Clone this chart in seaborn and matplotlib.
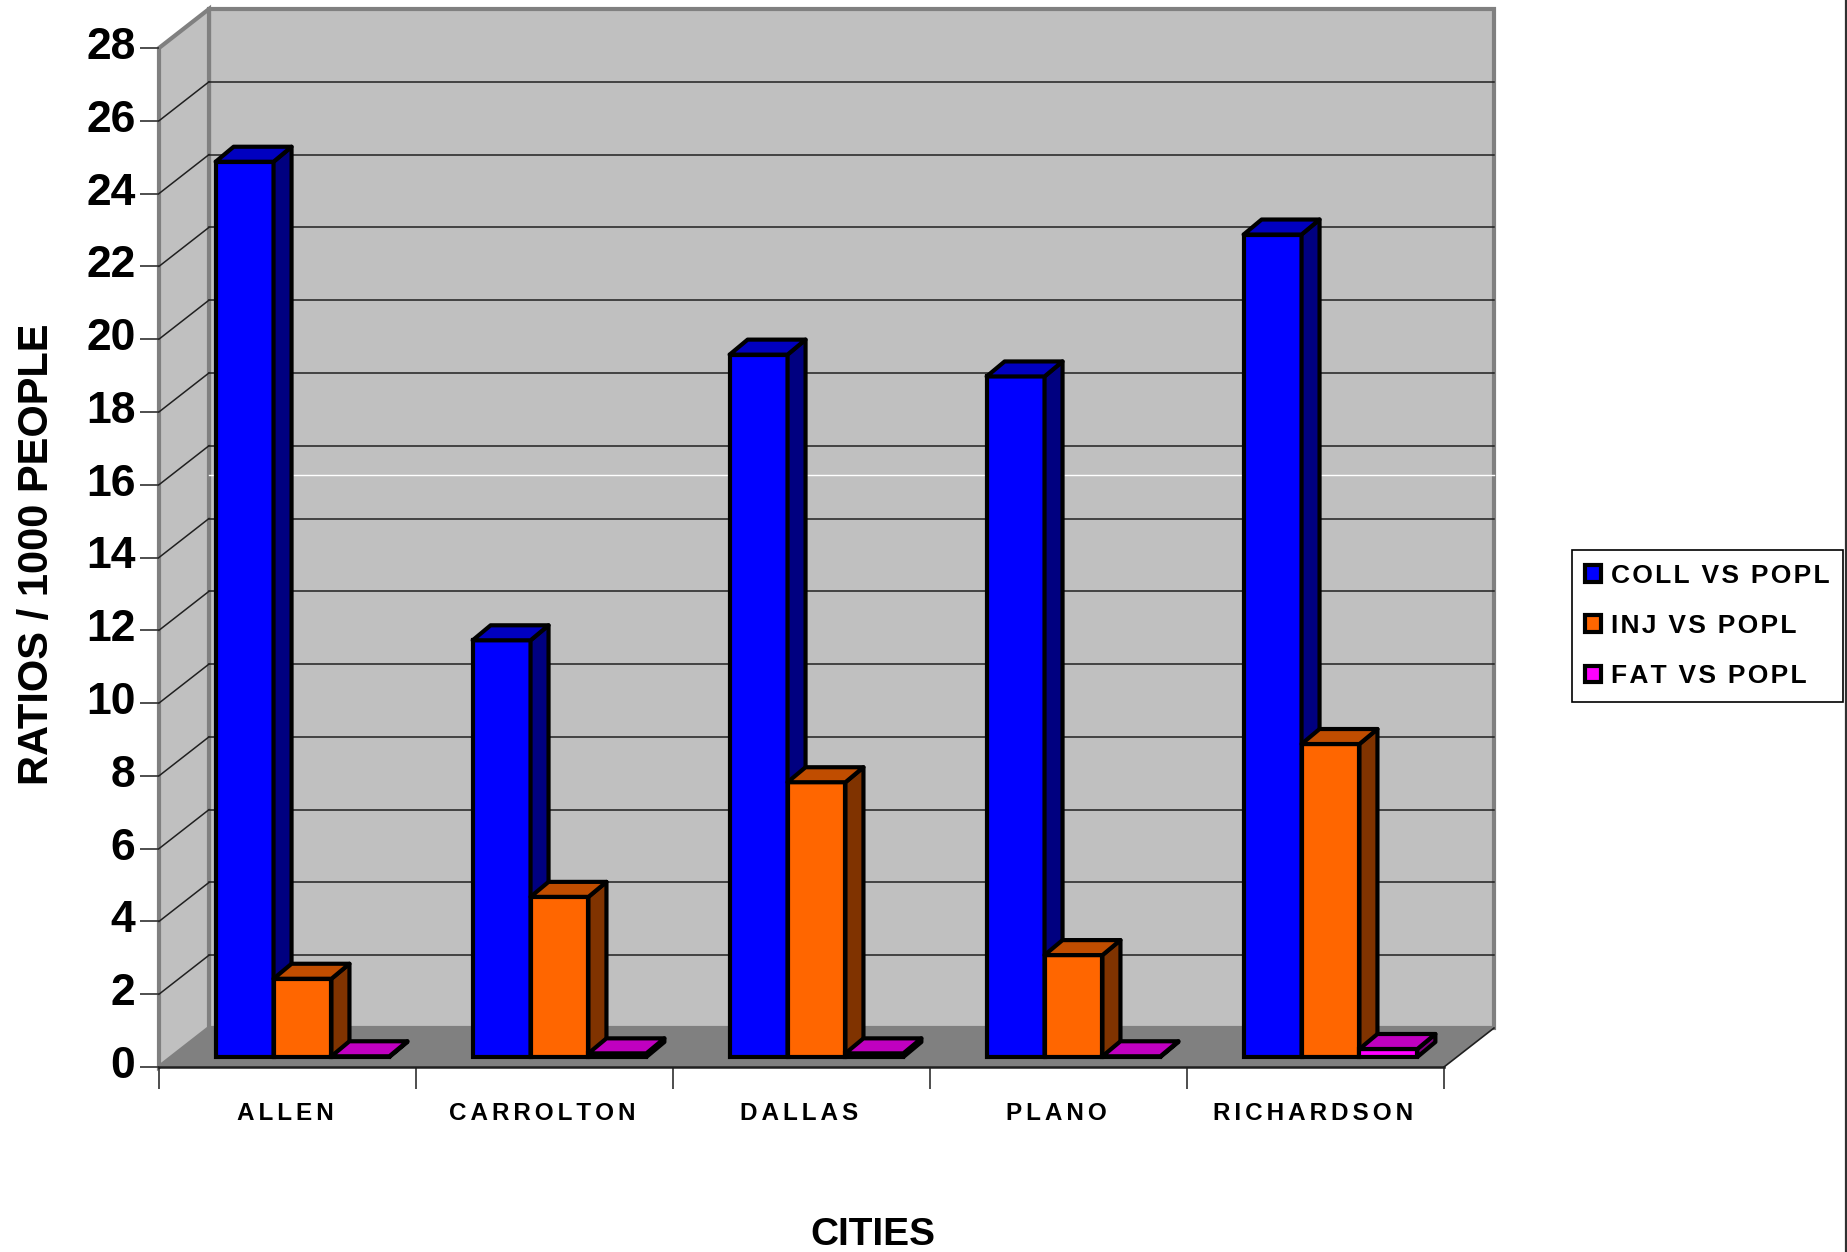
import numpy as np
import pandas as pd
import seaborn as sns
import matplotlib
matplotlib.use("Agg")
import matplotlib.pyplot as plt
import matplotlib.transforms as mtrans
from matplotlib.lines import Line2D
from matplotlib.patches import Patch, Polygon

cities = ["ALLEN", "CARROLTON", "DALLAS", "PLANO", "RICHARDSON"]
series = ["COLL VS POPL", "INJ VS POPL", "FAT VS POPL"]
coll_vs_popl = [24.6, 11.45, 19.3, 18.7, 22.6]
inj_vs_popl = [2.15, 4.4, 7.55, 2.8, 8.6]
fat_vs_popl = [0.02, 0.1, 0.1, 0.02, 0.22]
y_ticks = list(range(0, 29, 2))

front_colors = ["#0000FF", "#FF6600", "#FF00FF"]
top_colors = ["#0000C0", "#C04D00", "#C000C0"]
side_colors = ["#000080", "#803300", "#800080"]

# pixel sizes of the old 3D chart, turned into data units further down
WIDTH, HEIGHT = 1847, 1252
LEFT, RIGHT, TOP, BOTTOM = 159, 1444, 48, 1067
EDGE = 3.0


def spaced(label, n=1):
    # the original has wide letter spacing, matplotlib can't do that directly
    return ("\u200a" * n).join(label)


plt.rcParams["font.family"] = ["Liberation Sans", "DejaVu Sans"]
plt.rcParams["font.weight"] = "bold"

df = pd.DataFrame({
    "city": cities * 3,
    "series": np.repeat(series, len(cities)),
    "value": coll_vs_popl + inj_vs_popl + fat_vs_popl,
})

fig = plt.figure(figsize=(WIDTH / 100, HEIGHT / 100), dpi=100)
ax = fig.add_axes([LEFT / WIDTH, 1 - BOTTOM / HEIGHT, (RIGHT - LEFT) / WIDTH, (BOTTOM - TOP) / HEIGHT])

sns.barplot(data=df, x="city", y="value", hue="series", order=cities, hue_order=series,
            palette=front_colors, saturation=1, width=0.676, gap=0, legend=False, ax=ax, zorder=5,
            edgecolor="black", linewidth=EDGE, clip_on=False)

ax.set_xlim(-0.5, 4.5)
ax.set_ylim(0, 28)

ux = (len(cities)) / (RIGHT - LEFT)
uy = 28 / (BOTTOM - TOP)
wall_x, wall_y = 50 * ux, 39 * uy
off_x, off_y = 15 * ux, 10 * uy
deep_x, deep_y = 18 * ux, 15 * uy

# walls and floor
x0, x1 = -0.5, 4.5
ax.add_patch(Polygon([(x0 + wall_x, wall_y), (x1 + wall_x, wall_y), (x1 + wall_x, 28 + wall_y), (x0 + wall_x, 28 + wall_y)],
                     fc="#C0C0C0", ec="#808080", lw=3, clip_on=False, zorder=1))
ax.add_patch(Polygon([(x0, 0), (x0 + wall_x, wall_y), (x0 + wall_x, 28 + wall_y), (x0, 28)],
                     fc="#C0C0C0", ec="#808080", lw=3, clip_on=False, zorder=1))
ax.add_patch(Polygon([(x0, 0), (x1, 0), (x1 + wall_x, wall_y), (x0 + wall_x, wall_y)],
                     fc="#808080", ec="none", clip_on=False, zorder=1))
ax.plot([x1, x1 + wall_x], [0, wall_y], color="#202020", lw=1.2, clip_on=False, zorder=2)

# gridlines on both walls
for t in y_ticks[1:-1]:
    ax.plot([x0 + wall_x, x1 + wall_x], [t + wall_y, t + wall_y], color="#202020", lw=1.1, clip_on=False, zorder=2)
    ax.plot([x0, x0 + wall_x], [t, t + wall_y], color="#202020", lw=1.1, clip_on=False, zorder=2)
ax.plot([x0 + wall_x, x1 + wall_x], [15.2 + wall_y, 15.2 + wall_y], color="white", lw=1, clip_on=False, zorder=2)

# extrude the seaborn bars: side and top faces come from each bar's own rectangle
for i, container in enumerate(ax.containers):
    for bar in container:
        bar.set_x(bar.get_x() + off_x)
        bar.set_y(off_y)
        l, r = bar.get_x(), bar.get_x() + bar.get_width()
        b, t = bar.get_y(), bar.get_y() + bar.get_height()
        side = [(r, b), (r + deep_x, b + deep_y), (r + deep_x, t + deep_y), (r, t)]
        top = [(l, t), (l + deep_x, t + deep_y), (r + deep_x, t + deep_y), (r, t)]
        z = 5 + 0.1 * i
        bar.set_zorder(z)
        ax.add_patch(Polygon(side, fc=side_colors[i], ec="black", lw=EDGE, joinstyle="round", clip_on=False, zorder=z))
        ax.add_patch(Polygon(top, fc=top_colors[i], ec="black", lw=EDGE, joinstyle="round", clip_on=False, zorder=z))

ax.patch.set_visible(False)
for name, spine in ax.spines.items():
    spine.set_visible(False)
ax.plot([x0, x1], [0, 0], color="#202020", lw=1.8, clip_on=False, zorder=3)

ax.set_yticks(y_ticks)
ax.set_yticklabels(y_ticks, fontsize=32, fontweight="bold")
ax.tick_params(axis="y", length=14, width=1.2, color="#303030", pad=3)
# numbers sit a little above their ticks in the original
lift = mtrans.ScaledTranslation(0, 5 / 100, fig.dpi_scale_trans)
for label in ax.get_yticklabels():
    label.set_transform(label.get_transform() + lift)
ax.set_xticks(np.arange(-0.5, 5, 1))
ax.set_xticklabels([])
ax.tick_params(axis="x", length=16, width=1.2, color="#303030")
for i, city in enumerate(cities):
    ax.annotate(spaced(city, 2), (i, 0), xytext=(-2, -46), textcoords="offset pixels",
                ha="center", va="center", fontsize=17.5, fontweight="bold")

ax.set_xlabel("")
ax.set_ylabel("")
fig.text(873 / WIDTH, 1 - 1235 / HEIGHT, "CITIES", ha="center", va="center", fontsize=28, fontweight="bold")
fig.text(37 / WIDTH, 1 - 554 / HEIGHT, "RATIOS / 1000 PEOPLE", rotation=90, ha="center", va="center",
         fontsize=30, fontweight="bold")

handles = [Patch(fc=c, ec="black", lw=EDGE) for c in front_colors]
leg = fig.legend(handles, [spaced(s) for s in series], loc="center left", bbox_to_anchor=(1572 / WIDTH, 1 - 626 / HEIGHT),
                 borderaxespad=0, frameon=True, fancybox=False, edgecolor="black", framealpha=1, fontsize=19,
                 handlelength=0.6, handleheight=0.6, handletextpad=0.38, labelspacing=1.0, borderpad=0.5)
leg.get_frame().set_linewidth(1.2)

# dark edge line at the right side of the scan
fig.add_artist(Line2D([1845.5 / WIDTH] * 2, [0, 1], color="#303030", lw=1.6))

fig.savefig("out.png", dpi=100)
